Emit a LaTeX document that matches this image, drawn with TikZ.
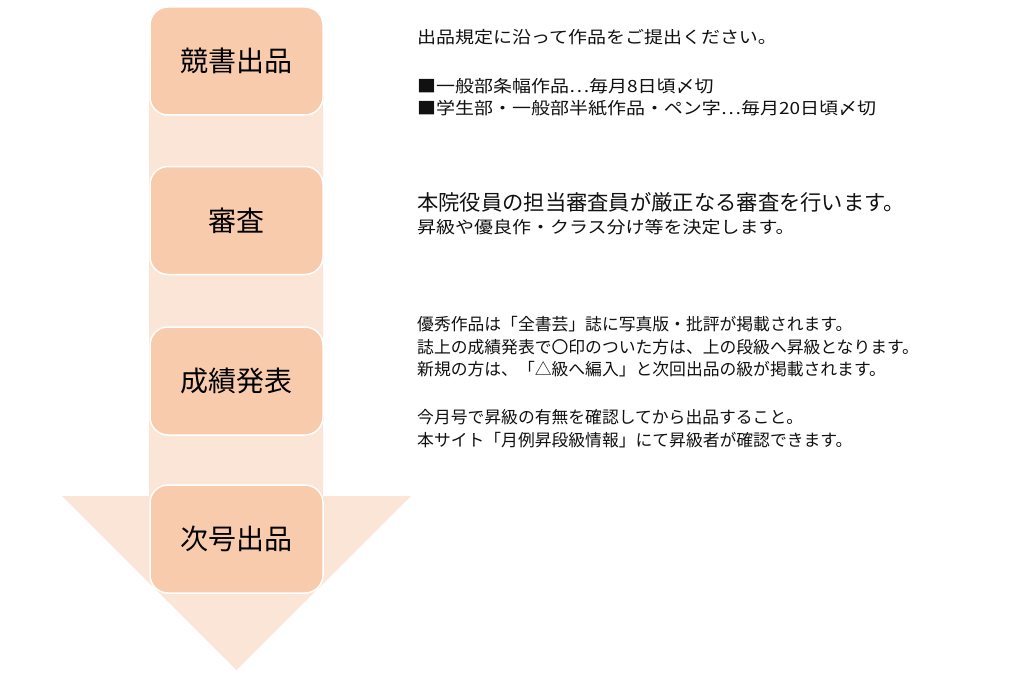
\documentclass[tikz,border=0pt]{standalone}
\usepackage{fontspec}
\newfontfamily\jp{Noto Sans CJK JP}
\newfontfamily\jpw[FakeStretch=1.13]{Noto Sans CJK JP}
\definecolor{boxc}{HTML}{F8CBAD}
\definecolor{arrc}{HTML}{FBE5D6}
\definecolor{txtc}{HTML}{111111}
\begin{document}
\begin{tikzpicture}[x=1pt,y=-1pt,
  stepbox/.style={draw=white, line width=1.5pt, fill=boxc, rounded corners=18pt,
    minimum width=173pt, minimum height=108pt, inner sep=0pt,
    font=\jp\fontsize{28}{30}\selectfont, text=black},
  sm/.style={anchor=base west, inner sep=0pt, text=txtc, font=\jpw\fontsize{16.8}{20}\selectfont},
  big/.style={anchor=base west, inner sep=0pt, text=txtc, font=\jp\fontsize{21.3}{24}\selectfont},
  mid/.style={anchor=base west, inner sep=0pt, text=txtc, font=\jp\fontsize{16.8}{20}\selectfont}]
\useasboundingbox[fill=white] (0,0) rectangle (1024,690);
% arrow
\coordinate (sL) at (149,60);
\coordinate (sR) at (323,60);
\coordinate (hL) at (62,496);
\coordinate (hR) at (411,496);
\coordinate (tip) at (236.5,670);
\fill[arrc] (sL) -- (sR) -- (323,496) -- (hR) -- (tip) -- (hL) -- (149,496) -- cycle;
% boxes
\node[stepbox] (b1) at (236.5,61) {競書出品};
\node[stepbox] (b2) at (236.5,220.5) {審査};
\node[stepbox] (b3) at (236.5,381) {成績発表};
\node[stepbox] (b4) at (236.5,539) {次号出品};
% texts
\node[sm] (t1a) at (417,44) {出品規定に沿って作品をご提出ください。};
\node[sm] (t1b) at (417,92.5) {■一般部条幅作品…毎月8日頃〆切};
\node[sm] (t1c) at (417,114.5) {■学生部・一般部半紙作品・ペン字…毎月20日頃〆切};
\node[big] (t2a) at (417,210.6) {本院役員の担当審査員が厳正なる審査を行います。};
\node[sm] (t2b) at (417,233.9) {昇級や優良作・クラス分け等を決定します。};
\node[mid] (t3a) at (417,330.9) {優秀作品は「全書芸」誌に写真版・批評が掲載されます。};
\node[mid] (t3b) at (417,353.9) {誌上の成績発表で〇印のついた方は、上の段級へ昇級となります。};
\node[mid] (t3c) at (417,375.9) {新規の方は、「△級へ編入」と次回出品の級が掲載されます。};
\node[mid] (t3d) at (417,423.9) {今月号で昇級の有無を確認してから出品すること。};
\node[mid] (t3e) at (417,446.9) {本サイト「月例昇段級情報」にて昇級者が確認できます。};
\end{tikzpicture}
\end{document}
